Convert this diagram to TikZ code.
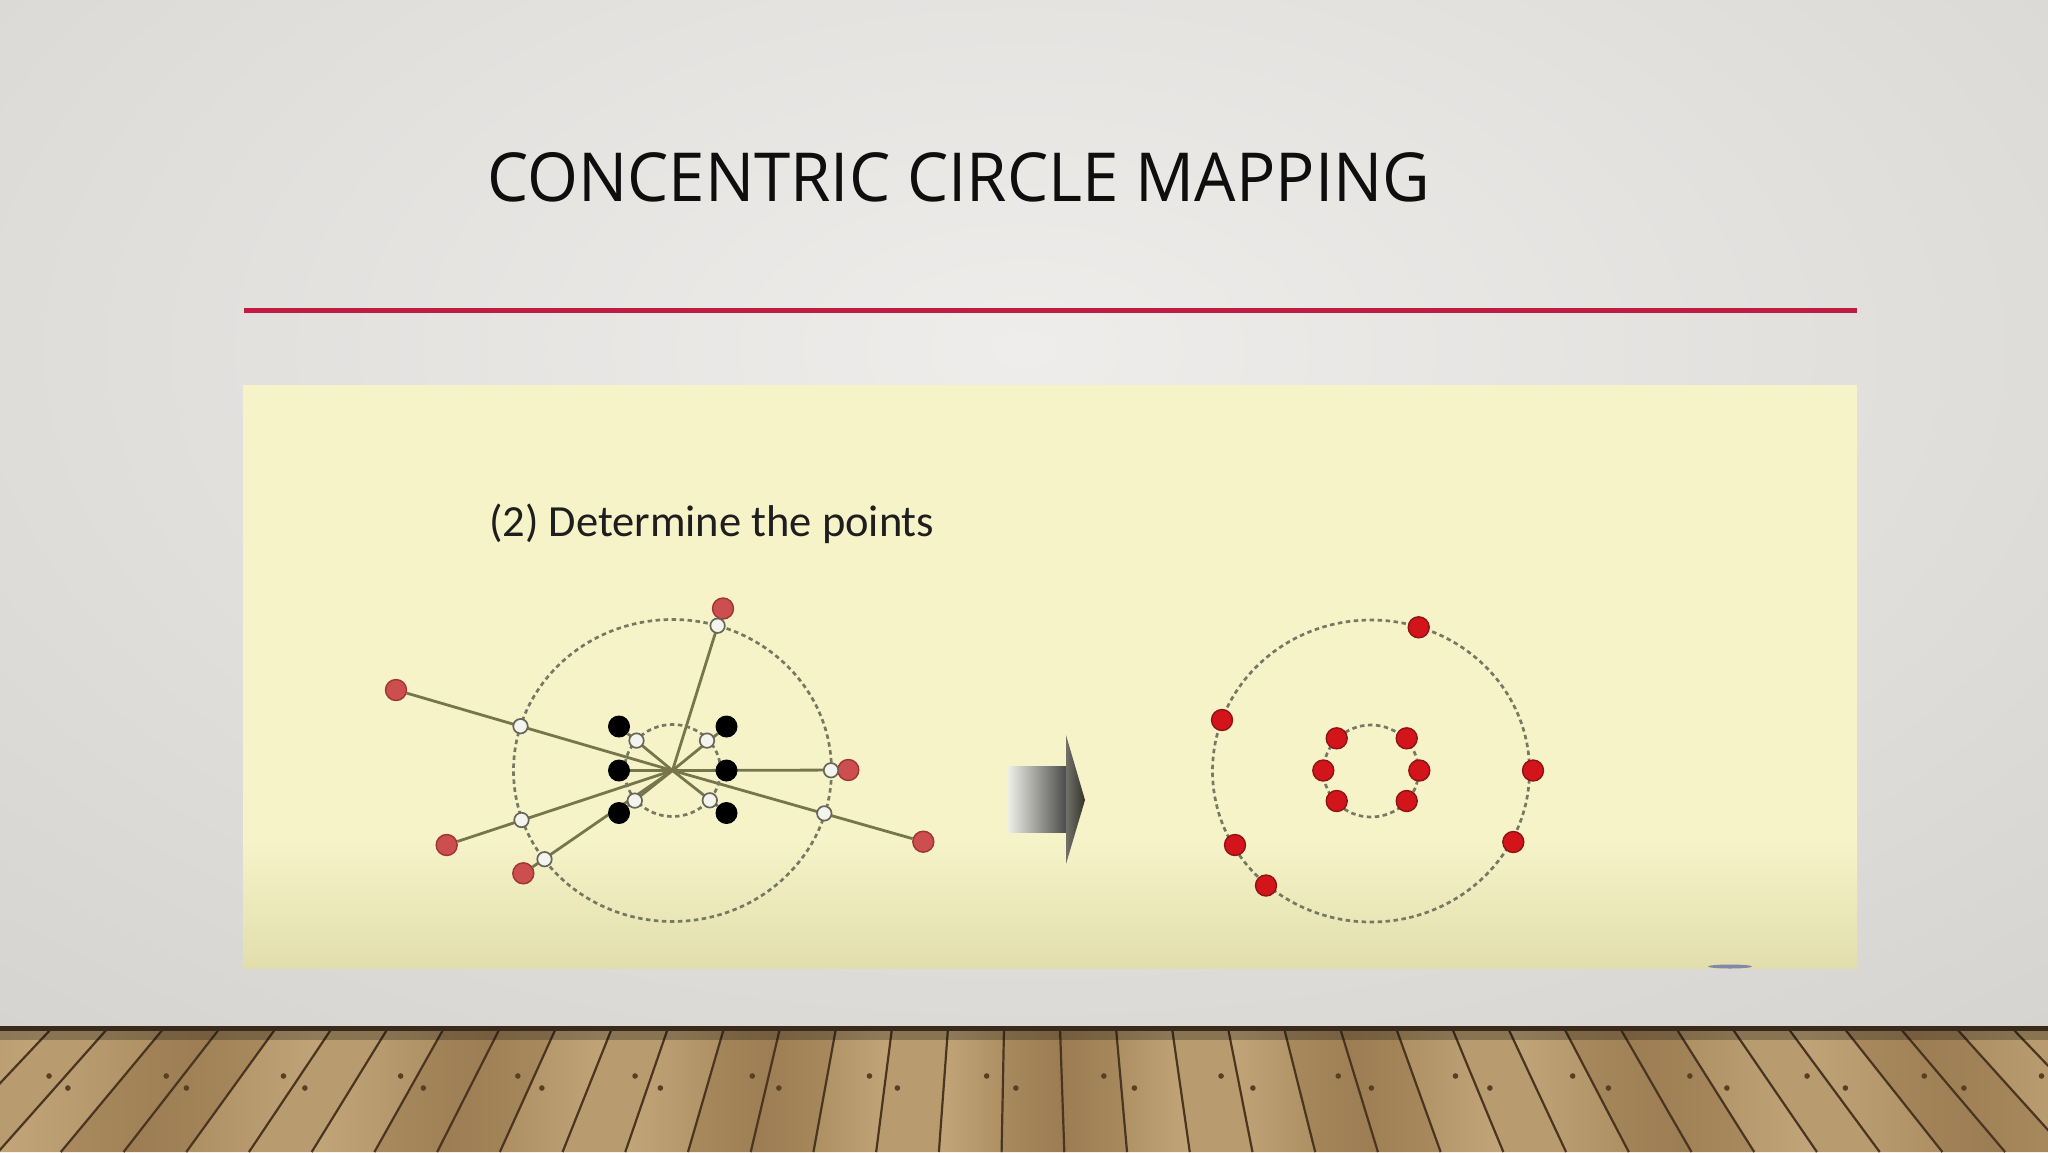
\documentclass[tikz,border=0pt]{standalone}
\usepackage{fontspec}
\setmainfont{Open Sans}
\newfontfamily\calib{Carlito}
\usetikzlibrary{shapes.geometric}
\definecolor{bgedge}{HTML}{CFCDC9}
\definecolor{bgcenter}{HTML}{EEEDEB}
\definecolor{redline}{HTML}{C01B42}
\definecolor{panel}{HTML}{F6F3C9}
\definecolor{panelbot}{HTML}{E2DEAC}
\definecolor{titlec}{HTML}{0E0E0E}
\definecolor{subc}{HTML}{1E1E1E}
\definecolor{redL}{HTML}{CC4E4E}
\definecolor{redLd}{HTML}{9E3535}
\definecolor{redR}{HTML}{D3141B}
\definecolor{redRd}{HTML}{8C1414}
\definecolor{whiteN}{HTML}{F4F4EE}
\definecolor{whiteNd}{HTML}{66665A}
\definecolor{rayc}{HTML}{76764C}
\definecolor{dashc}{HTML}{777862}
\definecolor{arrowL}{HTML}{EFEFE8}
\definecolor{arrowM}{HTML}{C4C4C8}
\definecolor{arrowR}{HTML}{4C4C4C}
\definecolor{arrowH}{HTML}{34342A}
\definecolor{wood0}{HTML}{A88A5E}
\definecolor{wood1}{HTML}{B89B6E}
\definecolor{wood2}{HTML}{9C7C52}
\definecolor{wood3}{HTML}{C2A67A}
\definecolor{wood4}{HTML}{AD8F62}
\definecolor{woodline}{HTML}{4A3520}
\definecolor{nail}{HTML}{5A3E22}
\definecolor{floortop}{HTML}{3A2A1C}
\definecolor{bluish}{HTML}{6A72AC}
\pgfdeclarelayer{back}
\pgfdeclarelayer{mid}
\pgfsetlayers{back,mid,main}
\tikzset{
  reddotL/.style={circle, inner sep=0pt, minimum size=21pt, fill=redL, draw=redLd, line width=1.4pt},
  reddotR/.style={circle, inner sep=0pt, minimum size=21pt, fill=redR, draw=redRd, line width=1.4pt},
  blackdot/.style={circle, inner sep=0pt, minimum size=22pt, fill=black},
  whitedot/.style={circle, inner sep=0pt, minimum size=14.5pt, fill=whiteN, draw=whiteNd, line width=1.7pt},
  ray/.style={draw=rayc, line width=2.8pt},
  dashcirc/.style={draw=dashc, line width=2.7pt, dash pattern=on 4.5pt off 3.5pt},
  plankline/.style={draw=woodline, line width=2.2pt},
}
\begin{document}
\begin{tikzpicture}[x=1pt,y=-1pt]
\useasboundingbox (0,0) rectangle (2048,1152);
\begin{pgfonlayer}{back}
% background
\fill[bgedge] (0,0) rectangle (2048,1030);
\begin{scope}
  \clip (0,0) rectangle (2048,1030);
  \shade[inner color=bgcenter, outer color=bgedge] (-1000,-800) rectangle (3048,1500);
\end{scope}
% floor
\begin{scope}
  \clip (0,1028) rectangle (2048,1152);
  \fill[wood0] (0,1028) rectangle (2048,1152);
  \foreach \i in {-20,...,19}{
    \pgfmathsetmacro\xa{1024+(\i)*56-20}
    \pgfmathsetmacro\xb{\xa+56}
    \pgfmathsetmacro\xab{1024+(\xa-1024)*1.12}
    \pgfmathsetmacro\xbb{1024+(\xb-1024)*1.12}
    \pgfmathtruncatemacro\ka{mod((\i+40)*7,5)}
    \pgfmathtruncatemacro\kb{mod((\i+40)*3+2,5)}
    \shade[left color=wood\ka, right color=wood\kb] (\xa,1028) -- (\xb,1028) -- (\xbb,1152) -- (\xab,1152) -- cycle;
    \draw[plankline] (\xa,1028) -- (\xab,1152);
    \pgfmathtruncatemacro\parity{mod(\i+40,2)}
    \ifnum\parity=0
      \def\ny{1088}\def\fr{0.22}
    \else
      \def\ny{1076}\def\fr{0.72}
    \fi
    \pgfmathsetmacro\tpos{(\ny-1028)/124}
    \pgfmathsetmacro\xl{\xa+(\xab-\xa)*\tpos}
    \pgfmathsetmacro\xr{\xb+(\xbb-\xb)*\tpos}
    \fill[nail] ({\xl+(\xr-\xl)*\fr},\ny) circle (2.8pt);
  }
  \fill[black, opacity=0.25] (0,1031) rectangle (2048,1040);
\end{scope}
\fill[floortop] (0,1026) rectangle (2048,1031);
% red rule
\fill[redline] (244,308) rectangle (1857,313);
% panel
\fill[panel] (243,385) rectangle (1857,968);
\shade[top color=panel, bottom color=panelbot] (243,840) rectangle (1857,968);
\fill[bluish, opacity=0.8] (1730,966.5) ellipse [x radius=22pt, y radius=2pt];
% arrow
\shade[left color=arrowL, middle color=arrowM, right color=arrowR] (1008,766) rectangle (1066,832);
\shade[left color=arrowH!70!white, right color=arrowH] (1066,735) -- (1085,800) -- (1066,864) -- cycle;
\end{pgfonlayer}
% texts
\node[anchor=base west, inner sep=0pt] (title) at (487,201)
  {\resizebox{943pt}{49pt}{\color{titlec}CONCENTRIC CIRCLE MAPPING}};
\node[anchor=base west, inner sep=0pt] (sub) at (489,536.5)
  {\resizebox{445pt}{!}{\calib\color{subc}(2) Determine the points}};
% ---------- left diagram ----------
\coordinate (c1) at (672.5,770.5);
\node[reddotL] (L1) at (723,608.5) {};
\node[reddotL] (L2) at (396,690) {};
\node[reddotL] (L3) at (848.3,770) {};
\node[reddotL] (L4) at (923.3,841.7) {};
\node[reddotL] (L5) at (446.7,845) {};
\node[reddotL] (L6) at (523.3,873.3) {};
\node[blackdot] (B1) at (619,726.5) {};
\node[blackdot] (B2) at (619,770.5) {};
\node[blackdot] (B3) at (619,813) {};
\node[blackdot] (B4) at (726.5,726.5) {};
\node[blackdot] (B5) at (726.5,770.5) {};
\node[blackdot] (B6) at (726.5,813) {};
\node[whitedot] (W1) at (717.6,625.7) {};
\node[whitedot] (W2) at (520.5,726.2) {};
\node[whitedot] (W3) at (831.0,770.3) {};
\node[whitedot] (W4) at (824.3,813.4) {};
\node[whitedot] (W5) at (521.5,820.0) {};
\node[whitedot] (W6) at (544.5,859.2) {};
\node[whitedot] (I1) at (636.5,740.6) {};
\node[whitedot] (I2) at (707.0,740.6) {};
\node[whitedot] (I3) at (634.8,800.6) {};
\node[whitedot] (I4) at (709.8,800.3) {};
\begin{pgfonlayer}{mid}
\foreach \n in {L1,L2,L3,L4,L5,L6,B1,B2,B3,B4,B5,B6}{
  \draw[ray] (c1) -- (\n);
}
\draw[dashcirc] (c1) ellipse [x radius=159pt, y radius=151pt];
\draw[dashcirc] (c1) ellipse [x radius=48pt, y radius=46pt];
\end{pgfonlayer}
% ---------- right diagram ----------
\coordinate (c2) at (1371,771);
\begin{pgfonlayer}{mid}
\draw[dashcirc] (c2) ellipse [x radius=158.5pt, y radius=151pt];
\draw[dashcirc] (c2) ellipse [x radius=47.5pt, y radius=46pt];
\end{pgfonlayer}
\node[reddotR] (R1) at (1418.7,627.3) {};
\node[reddotR] (R2) at (1222,720) {};
\node[reddotR] (R3) at (1533,770.5) {};
\node[reddotR] (R4) at (1513.3,842) {};
\node[reddotR] (R5) at (1235,845) {};
\node[reddotR] (R6) at (1266,885.5) {};
\node[reddotR] (R7) at (1336.7,738.3) {};
\node[reddotR] (R8) at (1406.7,738.3) {};
\node[reddotR] (R9) at (1323.3,770.5) {};
\node[reddotR] (R10) at (1419.3,770.5) {};
\node[reddotR] (R11) at (1336.7,801) {};
\node[reddotR] (R12) at (1406.7,801) {};
\end{tikzpicture}
\end{document}
